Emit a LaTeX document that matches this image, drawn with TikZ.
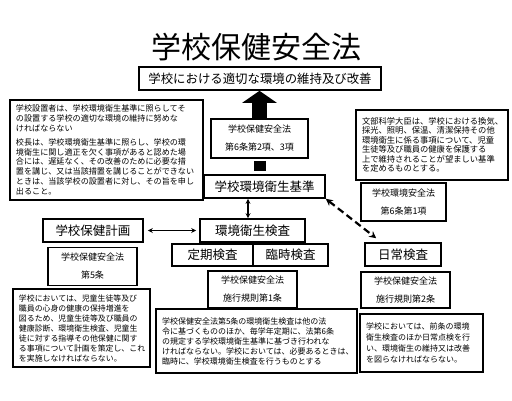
\documentclass[tikz,border=0pt]{standalone}
\usepackage{fontspec}
\setmainfont{Noto Sans CJK JP}
\usetikzlibrary{arrows.meta, positioning}

\newcommand{\fsz}[2]{\fontsize{#1}{#2}\selectfont}

\begin{document}
\begin{tikzpicture}[
    x=1pt, y=-1pt,
    box/.style={rectangle, draw=black, line width=1.6pt, inner sep=0pt, minimum height=23pt,
                text centered, font=\fsz{12.5}{14}},
    law/.style={rectangle, draw=black, line width=1.6pt, inner sep=0pt, minimum width=89pt,
                minimum height=38pt, align=center, font=\fsz{9}{18}},
    note/.style={rectangle, draw=black, line width=2.6pt, inner xsep=6pt, inner ysep=0pt, align=left},
    arr/.style={{Stealth[length=5pt, width=5pt]}-{Stealth[length=5pt, width=5pt]}, line width=1.3pt},
    dasharr/.style={{Stealth[length=7pt, width=7pt]}-{Stealth[length=7pt, width=7pt]},
                    line width=2.2pt, dash pattern=on 7pt off 4pt},
    bigarr/.style={-{Triangle[length=12pt, width=34pt]}, line width=15pt},
    blk/.style={line width=12pt},
]
\useasboundingbox (0,0) rectangle (512,400);

% Title and goal
\node[font=\fsz{30}{32}] (title) at (256,47) {学校保健安全法};
\node[box, minimum width=242pt, font=\fsz{12.4}{14}] (goal) at (260,78.5) {学校における適切な環境の維持及び改善};

% Law boxes
\node[law, minimum width=97pt, minimum height=39pt] (law62) at (259.5,138.5) {学校保健安全法\\第6条第2項、3項};
\node[law, minimum width=85pt] (law61) at (403.5,202) {学校環境安全法\\第6条第1項};
\node[law] (law5) at (92.5,266.5) {学校保健安全法\\第5条};
\node[law, minimum height=37pt] (law1) at (252.5,289.5) {学校保健安全法\\施行規則第1条};
\node[law, minimum height=36pt] (law2) at (405.5,290) {学校保健安全法\\施行規則第2条};

% Main boxes
\node[box, minimum width=121pt] (standard) at (264.5,186.5) {学校環境衛生基準};
\node[box, minimum width=100pt] (plan) at (93,230.5) {学校保健計画};
\node[box, minimum width=105pt] (inspect) at (252.5,230.5) {環境衛生検査};
\node[box, minimum width=81pt, minimum height=22pt] (regular) at (212.5,255) {定期検査};
\node[box, minimum width=75pt, minimum height=22pt] (temp) at (290.5,255) {臨時検査};
\node[box, minimum width=76pt] (daily) at (403,254.5) {日常検査};

% Notes
\node[note, text width=181pt, minimum height=100pt, font=\fsz{8.1}{9.8}] (setnote) at (106.5,150) {%
学校設置者は、学校環境衛生基準に照らしてそ\\
の設置する学校の適切な環境の維持に努めな\\
ければならない\\[4pt]
校長は、学校環境衛生基準に照らし、学校の環\\
境衛生に関し適正を欠く事項があると認めた場\\
合には、遅延なく、その改善のために必要な措\\
置を講じ、又は当該措置を講じることができない\\
ときは、当該学校の設置者に対し、その旨を申し\\
出ること。};
\node[note, text width=140pt, minimum height=70pt, font=\fsz{8.3}{9.5}] (minnote) at (432,145) {%
文部科学大臣は、学校における換気、\\
採光、照明、保温、清潔保持その他\\
環境衛生に係る事項について、児童\\
生徒等及び職員の健康を保護する\\
上で維持されることが望ましい基準\\
を定めるものとする。};
\node[note, text width=125pt, minimum height=78pt, font=\fsz{7.9}{10}] (plannote) at (81.5,328) {%
学校においては、児童生徒等及び\\
職員の心身の健康の保持増進を\\
図るため、児童生徒等及び職員の\\
健康診断、環境衛生検査、児童生\\
徒に対する指導その他保健に関す\\
る事項について計画を策定し、これ\\
を実施しなければならない。};
\node[note, text width=189pt, minimum height=64pt, font=\fsz{8}{10}] (inspnote) at (256.5,341) {%
学校保健安全法第5条の環境衛生検査は他の法\\
令に基づくもののほか、毎学年定期に、法第6条\\
の規定する学校環境衛生基準に基づき行われな\\
ければならない。学校においては、必要あるときは、\\
臨時に、学校環境衛生検査を行うものとする};
\node[note, text width=111pt, minimum height=58pt, font=\fsz{8}{11}] (dailynote) at (421.5,343) {%
学校においては、前条の環境\\
衛生検査のほか日常点検を行\\
い、環境衛生の維持又は改善\\
を図らなければならない。};

% Arrows
\draw[bigarr] (law62.north) -- (law62.north |- goal.south);
\draw[blk, shorten <=2pt, shorten >=3pt] (law62.south) -- (law62.south |- standard.north);
\draw[arr, transform canvas={xshift=-16.5pt}] (standard.south) -- (standard.south |- inspect.north);
\draw[arr, shorten <=4pt, shorten >=3pt] (plan.east) -- (inspect.west);
\draw[dasharr] (standard.south east) -- ([xshift=12pt, yshift=4pt]daily.north west);

\end{tikzpicture}
\end{document}
